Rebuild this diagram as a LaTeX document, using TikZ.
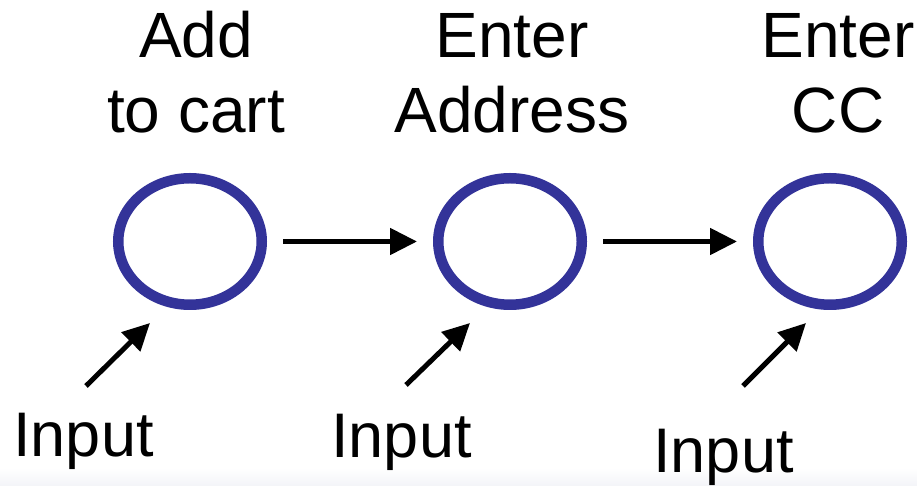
\documentclass[tikz,border=0pt]{standalone}
\usepackage{fontspec}
\setmainfont{Liberation Sans}
\usetikzlibrary{arrows.meta,shapes.geometric,calc}
\definecolor{stateblue}{HTML}{333399}
\definecolor{bandgray}{RGB}{243,244,248}
\begin{document}
\begin{tikzpicture}[x=1pt,y=1pt,
  state/.style={ellipse, draw=stateblue, line width=10.5pt, minimum width=143.5pt, minimum height=126.5pt, inner sep=0pt, fill=white},
  lbl/.style={align=center, inner sep=0pt, anchor=base, font=\fontsize{64}{75}\selectfont},
  inp/.style={inner sep=0pt, anchor=base, font=\fontsize{63}{70}\selectfont},
  flow/.style={line width=5pt, -{Triangle[length=27pt,width=26pt]}}]
\useasboundingbox (0,0) rectangle (917,486);
\shade[top color=white, bottom color=bandgray] (0,0) rectangle (917,18);
% states
\node[state] (c1) at (190,244.5) {};
\node[state] (c2) at (510,244.5) {};
\node[state] (c3) at (830,244.5) {};
% labels (base anchor = baseline of last line)
\node[lbl] (l1) at (196,353) {Add\\to cart};
\node[lbl] (l2) at (512,353) {Enter\\Address};
\node[lbl] (l3) at (838,353) {Enter\\CC};
% flow arrows
\draw[flow, shorten <=16pt, shorten >=16pt] (c1.east) -- (c2.west);
\draw[flow, shorten <=16pt, shorten >=16pt] (c2.east) -- (c3.west);
% inputs
\node[inp] (i1) at (83.5,29) {Input};
\node[inp] (i2) at (401.5,28) {Input};
\node[inp] (i3) at (723.5,13) {Input};
\coordinate (t1) at (86,100);
\coordinate (t2) at (406,101);
\coordinate (t3) at (743,100);
\coordinate (h1) at ($(c1.center)+(-40,-81.5)$);
\coordinate (h2) at ($(c2.center)+(-40,-81.5)$);
\coordinate (h3) at ($(c3.center)+(-24,-81.5)$);
\draw[flow] (t1) -- (h1);
\draw[flow] (t2) -- (h2);
\draw[flow] (t3) -- (h3);
\end{tikzpicture}
\end{document}
